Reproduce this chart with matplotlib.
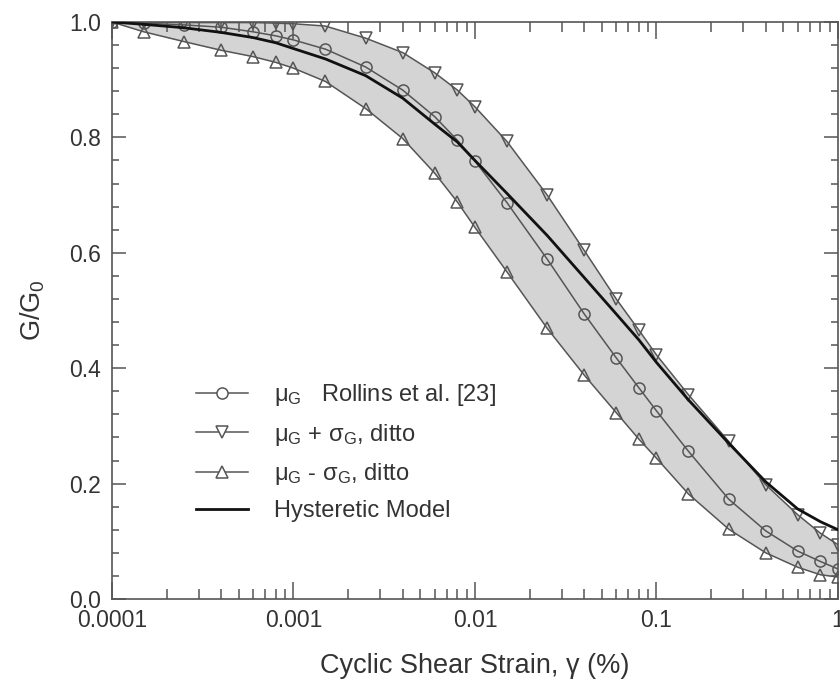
import matplotlib
matplotlib.use('Agg')
import matplotlib.pyplot as plt
from matplotlib.ticker import FixedLocator, NullFormatter

# cyclic shear strain (%) at which the curves are given
strain = [0.0001, 0.00015, 0.00025, 0.0004, 0.0006, 0.0008, 0.001, 0.0015, 0.0025,
          0.004, 0.006, 0.008, 0.01, 0.015, 0.025, 0.04, 0.06, 0.08, 0.1, 0.15,
          0.25, 0.4, 0.6, 0.8, 1.0]

# Rollins et al. [23] mean and mean +/- std
mu_g = [1.0, 0.998, 0.995, 0.991, 0.983, 0.976, 0.969, 0.953, 0.922,
        0.882, 0.836, 0.795, 0.759, 0.687, 0.589, 0.494, 0.418, 0.366, 0.326, 0.256,
        0.173, 0.118, 0.083, 0.065, 0.052]
mu_plus = [1.0, 1.0, 0.999, 0.999, 0.999, 0.998, 0.997, 0.993, 0.972,
           0.947, 0.912, 0.882, 0.853, 0.793, 0.700, 0.604, 0.520, 0.466, 0.423, 0.354,
           0.273, 0.198, 0.146, 0.114, 0.094]
mu_minus = [1.0, 0.983, 0.966, 0.951, 0.940, 0.930, 0.920, 0.897, 0.850,
            0.798, 0.738, 0.688, 0.644, 0.567, 0.469, 0.388, 0.323, 0.277, 0.244, 0.182,
            0.121, 0.080, 0.055, 0.042, 0.038]

# hysteretic model
hyst = [1.0, 0.996, 0.990, 0.982, 0.973, 0.964, 0.954, 0.936, 0.907,
        0.868, 0.823, 0.792, 0.760, 0.703, 0.630, 0.557, 0.494, 0.449, 0.410, 0.345,
        0.270, 0.203, 0.156, 0.134, 0.120]

xtick_vals = [0.0001, 0.001, 0.01, 0.1, 1]
xtick_labels = ['0.0001', '0.001', '0.01', '0.1', '1']
ytick_vals = [0.0, 0.2, 0.4, 0.6, 0.8, 1.0]

plt.rcParams['font.family'] = ['Liberation Sans', 'DejaVu Sans']
plt.rcParams['mathtext.fontset'] = 'custom'
plt.rcParams['mathtext.rm'] = 'Liberation Sans'
plt.rcParams['mathtext.it'] = 'Liberation Sans'
plt.rcParams['mathtext.default'] = 'regular'

txt = '#333333'
lc = '#555555'

fig = plt.figure(figsize=(8.4, 6.84), dpi=100)
ax = fig.add_axes([0.1333, 0.1243, 0.8643, 0.8435])

ax.fill_between(strain, mu_minus, mu_plus, color='#d4d4d4', lw=0, zorder=1)

mk = dict(color=lc, lw=1.1, markersize=8, markerfacecolor='none',
          markeredgecolor=lc, markeredgewidth=1.1, zorder=3)
ax.plot(strain, mu_g, marker='o', label=r'$\mu_G$   Rollins et al. [23]', **mk)
ax.plot(strain, mu_plus, marker='v', label=r'$\mu_G$ + $\sigma_G$, ditto', **mk)
ax.plot(strain, mu_minus, marker='^', label=r'$\mu_G$ - $\sigma_G$, ditto', **mk)
ax.plot(strain, hyst, color='#111111', lw=2.0, label='Hysteretic Model', zorder=4)

ax.set_xscale('log')
ax.set_xlim(0.0001, 1)
ax.set_ylim(0, 1.0)
ax.xaxis.set_major_locator(FixedLocator(xtick_vals))
ax.set_xticklabels(xtick_labels)
ax.xaxis.set_minor_formatter(NullFormatter())
ax.yaxis.set_major_locator(FixedLocator(ytick_vals))
ax.set_yticklabels(['%.1f' % v for v in ytick_vals])
ax.yaxis.set_minor_locator(FixedLocator([i * 0.04 for i in range(26)]))

ax.tick_params(which='both', direction='in', top=True, right=True, colors=lc,
               labelcolor=txt, labelsize=16.5, width=1.1)
ax.tick_params(axis='x', which='major', length=12, pad=7)
ax.tick_params(axis='x', which='minor', length=7)
ax.tick_params(axis='y', which='major', length=10, pad=8)
ax.tick_params(axis='y', which='minor', length=5)
for s in ax.spines.values():
    s.set_color(lc)
    s.set_linewidth(1.2)

ax.set_xlabel('Cyclic Shear Strain, γ (%)', fontsize=19.5, color=txt, labelpad=15)
ax.set_ylabel('G/G$_0$', fontsize=19.5, color=txt, labelpad=16)

leg = ax.legend(loc='upper left', bbox_to_anchor=(0.233, 0.441), bbox_transform=fig.transFigure,
                frameon=False, fontsize=17, handlelength=2.2, handletextpad=1.1,
                labelspacing=0.56, borderpad=0, borderaxespad=0)
for t in leg.get_texts():
    t.set_color(txt)
for h in leg.legend_handles[:3]:
    h.set_markerfacecolor('white')

plt.savefig('out.png', dpi=100)
